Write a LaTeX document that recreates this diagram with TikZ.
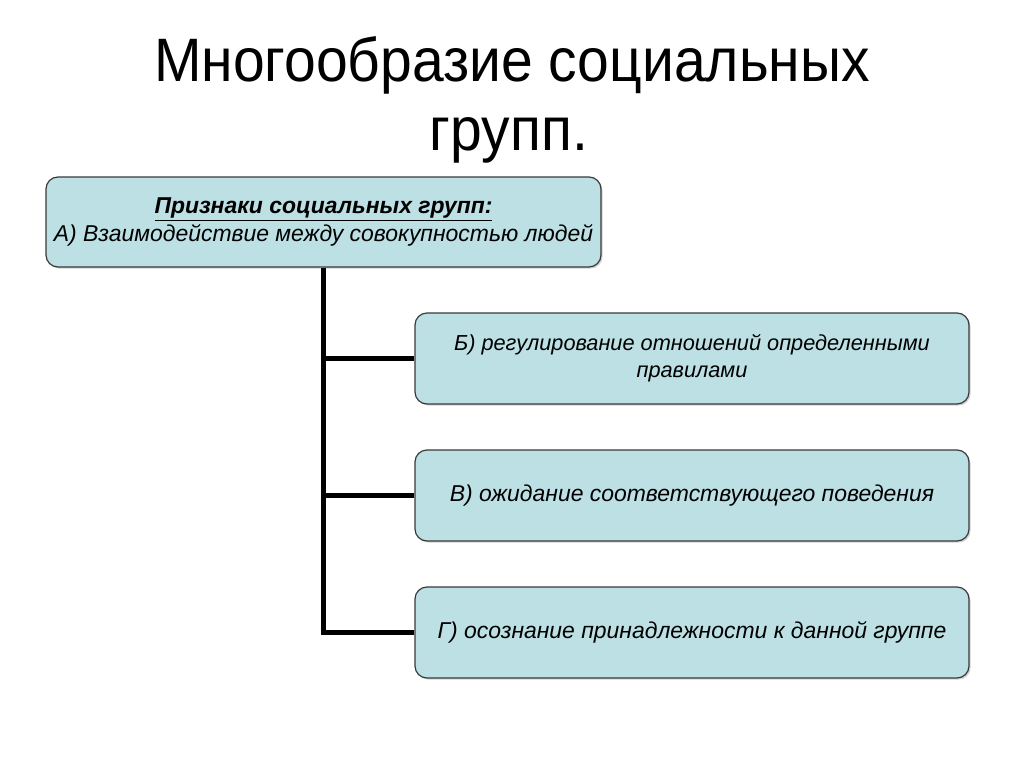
\documentclass[tikz,border=0pt]{standalone}
\usepackage{fontspec}
\setmainfont{Liberation Sans}
\usetikzlibrary{shadows}
\definecolor{boxfill}{HTML}{BCE0E4}
\definecolor{boxline}{HTML}{3A3A3A}
\begin{document}
\begin{tikzpicture}[x=0.75pt,y=-0.75pt,
  itembox/.style={draw=boxline, line width=0.9pt, fill=boxfill, rounded corners=9pt,
    minimum width=554*0.75pt, minimum height=91*0.75pt, align=center,
    inner sep=0pt, font=\fontsize{17.2}{20.3}\selectfont\itshape,
    drop shadow={shadow xshift=1.2pt, shadow yshift=-1.2pt, opacity=0.35}},
  titletext/.style={anchor=base, inner sep=0pt, font=\fontsize{46}{48}\selectfont},
  conn/.style={line width=3.8pt, line join=miter}]
\useasboundingbox (0,0) rectangle (1024,767);
\fill[white] (0,0) rectangle (1024,767);
\node[titletext] (t1) at (512,82) {\scalebox{0.93}[1]{Многообразие социальных}};
\node[titletext] (t2) at (509,150) {\scalebox{0.93}[1]{групп.}};
\node[itembox, minimum width=555*0.75pt, minimum height=90*0.75pt] (top) at (323.5,222)
  {\textbf{\underline{Признаки социальных групп:}}\\А) Взаимодействие между совокупностью людей};
\node[itembox, font=\fontsize{16.3}{20.3}\selectfont\itshape] (b) at (692,358.5) {Б) регулирование отношений определенными\\правилами};
\node[itembox] (v) at (692,495.5) {В) ожидание соответствующего поведения};
\node[itembox] (g) at (692,632.5) {Г) осознание принадлежности к данной группе};
\draw[conn] (top.south) |- (g.west);
\draw[conn] (top.south) |- (b.west);
\draw[conn] (top.south) |- (v.west);
\end{tikzpicture}
\end{document}
